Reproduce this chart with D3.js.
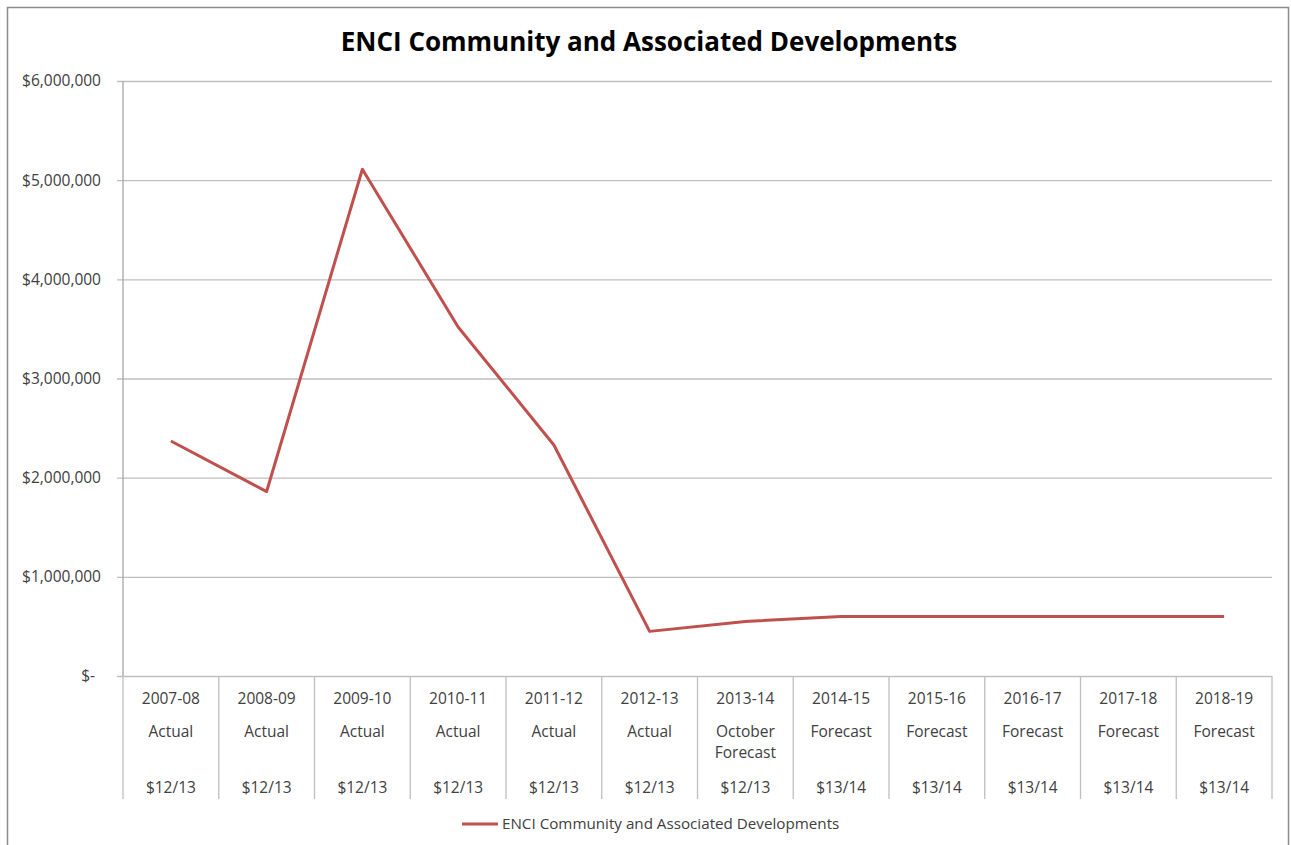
<!DOCTYPE html>
<html>
<head>
<meta charset="utf-8">
<script src="https://cdn.jsdelivr.net/npm/d3@7"></script>
<style>
  body { margin: 0; background: #fff; }
  svg text { font-family: "Open Sans", sans-serif; fill: #404040; }
</style>
</head>
<body>
<svg id="chart" width="1291" height="845"></svg>
<script>
// chart data
const years = ['2007-08', '2008-09', '2009-10', '2010-11', '2011-12', '2012-13', '2013-14', '2014-15', '2015-16', '2016-17', '2017-18', '2018-19'];
const status = [['Actual'], ['Actual'], ['Actual'], ['Actual'], ['Actual'], ['Actual'], ['October', 'Forecast'], ['Forecast'], ['Forecast'], ['Forecast'], ['Forecast'], ['Forecast']];
const basis = ['$12/13', '$12/13', '$12/13', '$12/13', '$12/13', '$12/13', '$12/13', '$13/14', '$13/14', '$13/14', '$13/14', '$13/14'];
const values = [2370000, 1860000, 5110000, 3520000, 2330000, 450000, 550000, 600000, 600000, 600000, 600000, 600000];
const yTicks = [0, 1000000, 2000000, 3000000, 4000000, 5000000, 6000000];
const seriesName = 'ENCI Community and Associated Developments';

function render() {
  const svg = d3.select('#chart');
  svg.selectAll('*').remove();
  const width = +svg.attr('width');
  const height = +svg.attr('height');
  const margin = { top: 81, right: 19, bottom: 169, left: 123 };
  const innerWidth = width - margin.left - margin.right;
  const innerHeight = height - margin.top - margin.bottom;

  // outer chart frame
  svg.append('rect')
    .attr('x', 7.5).attr('y', 7.5)
    .attr('width', width - 10).attr('height', height)
    .attr('fill', 'none')
    .attr('stroke', '#8c8c8c')
    .attr('stroke-width', 1.5);

  svg.append('text')
    .attr('x', 649).attr('y', 51)
    .attr('text-anchor', 'middle')
    .style('font-size', '26px')
    .style('font-weight', 'bold')
    .style('fill', '#000')
    .text(seriesName);

  const xScale = d3.scaleBand()
    .domain(years)
    .range([0, innerWidth])
    .padding(0);

  const yScale = d3.scaleLinear()
    .domain([0, 6000000])
    .range([innerHeight, 0]);

  const chart = svg.append('g')
    .attr('transform', `translate(${margin.left}, ${margin.top})`);

  // horizontal gridlines + y axis
  const yAxis = d3.axisLeft(yScale)
    .tickValues(yTicks)
    .tickSize(-innerWidth)
    .tickPadding(22)
    .tickFormat(d => d === 0 ? '$-' : '$' + d3.format(',')(d));

  const yG = chart.append('g').call(yAxis);
  yG.select('.domain').remove();
  yG.selectAll('.tick line')
    .attr('x1', -6)
    .attr('stroke', '#bfbfbf')
    .attr('stroke-width', 1.3);
  yG.selectAll('.tick text')
    .style('font-size', '15.5px')
    .attr('dx', d => d === 0 ? -6 : 0);

  // left axis line
  chart.append('line')
    .attr('x1', 0).attr('x2', 0)
    .attr('y1', 0).attr('y2', innerHeight)
    .attr('stroke', '#a6a6a6')
    .attr('stroke-width', 1.3);

  // category dividers under the axis
  const bounds = years.map(d => xScale(d)).concat([innerWidth]);
  chart.append('g').selectAll('line')
    .data(bounds)
    .enter().append('line')
    .attr('x1', d => d).attr('x2', d => d)
    .attr('y1', innerHeight).attr('y2', innerHeight + 123)
    .attr('stroke', '#bfbfbf')
    .attr('stroke-width', 1.3);

  // multi-row category labels
  const labels = chart.append('g').attr('class', 'x-labels');
  years.forEach(function(y, i) {
    const cx = xScale(y) + xScale.bandwidth() / 2;
    const g = labels.append('g');
    g.append('text')
      .attr('x', cx).attr('y', innerHeight + 28)
      .attr('text-anchor', 'middle')
      .style('font-size', '15.5px')
      .text(y);
    status[i].forEach(function(s, j) {
      g.append('text')
        .attr('x', cx).attr('y', innerHeight + 61 + j * 21)
        .attr('text-anchor', 'middle')
        .style('font-size', '15.5px')
        .text(s);
    });
    g.append('text')
      .attr('x', cx).attr('y', innerHeight + 117)
      .attr('text-anchor', 'middle')
      .style('font-size', '15.5px')
      .text(basis[i]);
  });

  // the series line
  const line = d3.line()
    .x((d, i) => xScale(years[i]) + xScale.bandwidth() / 2)
    .y(d => yScale(d));

  chart.append('path')
    .datum(values)
    .attr('fill', 'none')
    .attr('stroke', '#c0504d')
    .attr('stroke-width', 3)
    .attr('stroke-linejoin', 'round')
    .attr('d', line);

  // legend
  const legend = svg.append('g').attr('transform', 'translate(462, 824)');
  legend.append('line')
    .attr('x1', 0).attr('x2', 36)
    .attr('y1', 0).attr('y2', 0)
    .attr('stroke', '#c0504d')
    .attr('stroke-width', 3);
  legend.append('text')
    .attr('x', 40).attr('y', 5)
    .style('font-size', '15.2px')
    .text(seriesName);
}

render();
</script>
</body>
</html>
